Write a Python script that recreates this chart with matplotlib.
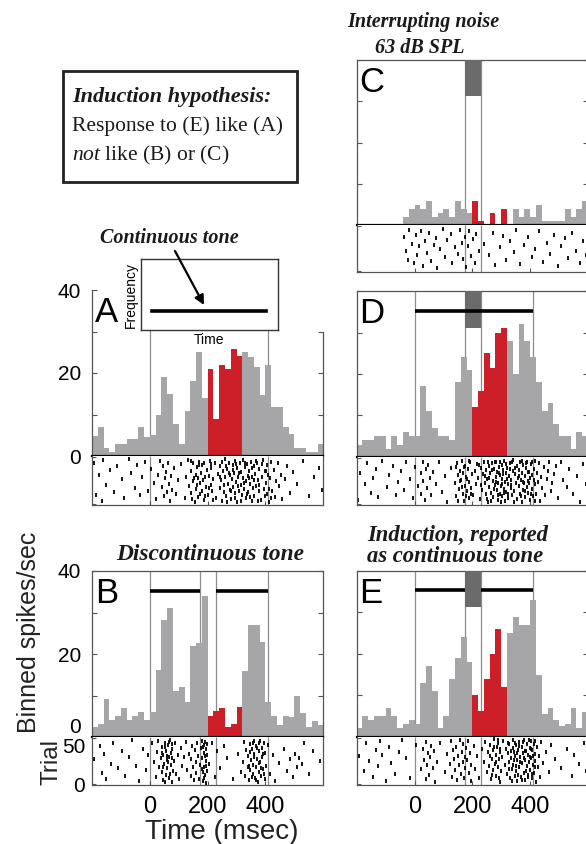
import numpy as np
import matplotlib.pyplot as plt
from matplotlib.patches import Rectangle, FancyArrowPatch

plt.rcParams["font.family"] = "Liberation Sans"
plt.rcParams["mathtext.fontset"] = "custom"
plt.rcParams["mathtext.it"] = "Liberation Serif:italic"
plt.rcParams["mathtext.rm"] = "Liberation Serif"

# 20 ms bins from -200 to 600 ms; bins 200-320 ms are shown in red
edges = np.arange(-200, 601, 20)
red_lo, red_hi = 20, 26

# binned spikes/sec
a_rate = [4.8, 6.9, 2.0, 1.0, 2.8, 2.8, 4.0, 4.0, 6.9, 4.6,
          5.0, 9.8, 19, 15, 7.6, 2.8, 10.9, 18, 25, 13.9,
          21, 9, 22, 21, 25.9, 24, 25, 23.9, 21.5, 14.8,
          22, 11.9, 11.9, 6.9, 5.4, 2.0, 2.0, 1.0, 1.0, 2.9]
b_rate = [2.3, 3.1, 9.1, 4.0, 5.1, 7.1, 4.0, 5.1, 6.0, 4.0,
          6.0, 16.1, 28.2, 31, 11.1, 12.1, 8.5, 22, 22.7, 34,
          5.0, 6.2, 7.0, 2.4, 3.2, 7.2, 16, 27, 27, 23,
          8.4, 5, 3, 5, 4.8, 9.8, 5.8, 2.3, 3.8, 2.8]
c_rate = [0, 0, 0, 0, 0, 0, 0, 0, 1.9, 3.9,
          4.8, 3.9, 5.9, 1.9, 2.8, 3.9, 1.9, 5.9, 3.9, 2.8,
          5.9, 1.0, 0, 2.8, 0, 3.9, 0, 3.9, 1.9, 3.9,
          1.9, 4.8, 1.0, 1.0, 1.0, 1.0, 3.9, 1.9, 3.9, 5.9]
d_rate = [3.0, 4.0, 4.0, 5.0, 5.0, 2.0, 5.0, 3.0, 6.0, 5.0,
          5.0, 17, 11, 7, 5, 5, 4, 18, 24, 21,
          12, 16, 25, 21.4, 30, 31, 28, 20, 32, 28,
          24, 18, 11, 13, 8, 5, 5, 2, 6, 5]
e_rate = [2.0, 5.0, 4.0, 5.0, 5.0, 7.0, 5.0, 2.0, 3.0, 4.0,
          3.0, 13, 17, 11, 2, 5, 14, 19, 24, 18,
          10, 6.3, 14, 20, 26, 12, 25, 29, 27, 27,
          33, 15, 5.5, 7, 4, 2.5, 3, 7, 2, 6]

# raster spikes: (time ms, trial)
a_spikes = [(-193, 44), (-186, 9), (-175, 31), (-166, 3), (-162, 47), (-152, 20), (-137, 36),
            (-124, 12), (-113, 40), (-97, 26), (-88, 6), (-71, 48), (-64, 33), (-52, 17),
            (-45, 41), (-33, 9), (-28, 28), (-15, 45), (-6, 14), (4, 37), (13, 22),
            (22, 5), (29, 31), (36, 46), (41, 18), (44, 40), (48, 8), (52, 27), (55, 34), (58, 12),
            (62, 44), (66, 21), (70, 3), (74, 30), (78, 15), (83, 38), (89, 10), (96, 25), (108, 42),
            (121, 6), (126, 29), (132, 47), (137, 19), (141, 35), (144, 11), (148, 24), (151, 43),
            (155, 2), (158, 31), (161, 16), (163, 39), (166, 27), (168, 7), (171, 45), (174, 22),
            (176, 33), (179, 13), (182, 41), (186, 4), (190, 28), (194, 18), (198, 36),
            (201, 9), (204, 30), (207, 46), (210, 20), (213, 38), (216, 14), (219, 26),
            (224, 43), (230, 6), (237, 32), (241, 17), (244, 40), (247, 25), (250, 3), (253, 35),
            (256, 12), (259, 48), (261, 29), (264, 8), (267, 37), (270, 21), (273, 44), (276, 15),
            (279, 31), (281, 5), (283, 26), (286, 41), (288, 18), (291, 33), (294, 11), (296, 46),
            (299, 23), (301, 38), (303, 2), (306, 29), (308, 14), (311, 43), (314, 20), (317, 34),
            (319, 9), (321, 27), (323, 47), (326, 16), (328, 39), (331, 6), (334, 24), (337, 42),
            (339, 30), (341, 12), (344, 35), (346, 21), (349, 45), (352, 3), (355, 28), (357, 17),
            (359, 40), (362, 8), (365, 32), (368, 19), (371, 44), (374, 25), (377, 13), (379, 37),
            (383, 4), (387, 29), (391, 47), (395, 16), (398, 35), (401, 22), (404, 41), (407, 10),
            (410, 31), (413, 2), (416, 27), (419, 45), (423, 14), (428, 36), (433, 7), (438, 24),
            (442, 43), (447, 19), (452, 31), (457, 5), (466, 26), (474, 40), (484, 11), (495, 34),
            (508, 21), (531, 46), (549, 8), (568, 29), (586, 38), (594, 15),
            (143, 46), (147, 5), (153, 27), (162, 20), (169, 41), (172, 10), (184, 25), (188, 44),
            (192, 8), (206, 17), (211, 42), (218, 4), (243, 29), (249, 45), (255, 20), (262, 40),
            (268, 2), (274, 33), (282, 14), (287, 36), (293, 6), (298, 42), (304, 19), (309, 33),
            (316, 3), (324, 22), (329, 44), (336, 10), (343, 27), (348, 7), (354, 38), (361, 25),
            (366, 46), (373, 3), (378, 20), (389, 42), (397, 8), (403, 35), (411, 16), (418, 6)]
b_spikes = [(-192, 27), (-174, 41), (-165, 12), (-158, 33), (-151, 6), (-133, 22), (-126, 45),
            (-111, 17), (-95, 36), (-86, 9), (-72, 29), (-63, 48), (-49, 20), (-37, 3), (-24, 38),
            (-14, 15), (-5, 31), (6, 44), (14, 24), (21, 8), (25, 35), (29, 47), (33, 19), (37, 28),
            (41, 13), (43, 40), (45, 4), (47, 31), (50, 22), (52, 45), (55, 10), (57, 36), (59, 26),
            (61, 17), (63, 42), (65, 7), (67, 29), (70, 48), (72, 21), (74, 34), (76, 2), (78, 38),
            (79, 14), (83, 25), (88, 44), (92, 11), (97, 32), (102, 6), (107, 39), (112, 20),
            (117, 29), (124, 46), (130, 15), (136, 33), (141, 9), (144, 27), (147, 41), (150, 18),
            (153, 4), (156, 37), (159, 24), (161, 12), (164, 44), (167, 30), (170, 6), (173, 21),
            (176, 39), (179, 16), (181, 28), (182, 47), (184, 3), (186, 34), (187, 19), (189, 42),
            (191, 10), (193, 25), (195, 38), (197, 14), (199, 31), (205, 22), (214, 45), (224, 8),
            (233, 36), (243, 17), (255, 41), (268, 28), (287, 5), (304, 33), (315, 13), (321, 24),
            (325, 46), (330, 9), (334, 37), (338, 19), (341, 30), (343, 4), (346, 43), (348, 15),
            (351, 26), (353, 38), (356, 11), (358, 21), (359, 47), (361, 33), (363, 7), (366, 18),
            (368, 41), (371, 27), (373, 2), (376, 36), (378, 13), (379, 45), (381, 24), (384, 9),
            (387, 39), (389, 29), (392, 16), (394, 44), (397, 5), (399, 34), (403, 20), (409, 42),
            (416, 11), (425, 31), (434, 3), (448, 23), (463, 38), (474, 14), (485, 27), (494, 8),
            (503, 33), (509, 19), (516, 28), (525, 22), (534, 45), (551, 11), (566, 36), (589, 25),
            (42, 34), (46, 18), (51, 40), (54, 2), (58, 30), (62, 24), (66, 46), (71, 11), (75, 28),
            (77, 43), (183, 13), (185, 40), (188, 7), (190, 30), (192, 46), (194, 20), (196, 1),
            (198, 43), (342, 20), (347, 35), (352, 8), (357, 44), (362, 29), (367, 4), (372, 39),
            (377, 23), (382, 47), (386, 17), (391, 33), (396, 11)]
c_spikes = [(-35, 38), (-31, 22), (-22, 12), (-18, 45), (-10, 30), (-3, 8), (5, 40), (9, 17),
            (16, 27), (24, 44), (28, 5), (35, 33), (42, 20), (50, 42), (57, 11), (66, 29), (73, 37),
            (79, 3), (88, 24), (97, 46), (104, 15), (112, 34), (125, 41), (131, 8), (140, 26),
            (149, 19), (156, 45), (163, 31), (168, 13), (176, 38), (179, 4), (184, 27), (188, 44),
            (196, 16), (203, 35), (209, 9), (214, 41), (222, 22), (240, 30), (256, 17), (271, 42),
            (278, 6), (295, 26), (306, 39), (318, 12), (331, 33), (344, 21), (352, 45), (366, 7),
            (380, 29), (392, 38), (405, 15), (417, 24), (430, 44), (443, 10), (458, 31), (469, 19),
            (482, 40), (497, 5), (508, 27), (521, 36), (530, 14), (546, 42), (558, 22), (571, 8),
            (583, 33), (594, 18)]
d_spikes = [(-195, 4), (-188, 33), (-172, 21), (-166, 44), (-151, 12), (-144, 28), (-133, 38),
            (-125, 7), (-113, 47), (-96, 18), (-88, 31), (-74, 41), (-65, 9), (-57, 24), (-46, 36),
            (-37, 15), (-28, 45), (-16, 27), (-5, 6), (3, 40), (12, 19), (21, 33), (24, 11),
            (28, 46), (31, 25), (35, 4), (38, 38), (43, 17), (48, 42), (53, 28), (58, 9), (64, 35),
            (73, 21), (84, 46), (94, 13), (105, 30), (114, 2), (127, 39), (141, 22), (144, 8),
            (148, 44), (151, 31), (155, 16), (158, 36), (161, 26), (163, 47), (166, 11), (168, 34),
            (171, 3), (174, 19), (176, 41), (179, 29), (181, 14), (184, 38), (187, 6), (190, 24),
            (193, 45), (196, 17), (199, 32), (203, 9), (208, 36), (212, 21), (217, 43), (221, 28),
            (225, 5), (229, 39), (233, 15), (237, 32), (241, 46), (243, 22), (246, 10), (248, 37),
            (251, 27), (254, 2), (256, 41), (259, 18), (261, 33), (264, 12), (267, 44), (270, 25),
            (273, 7), (276, 38), (279, 20), (281, 29), (282, 45), (284, 15), (286, 35), (288, 4),
            (290, 23), (292, 40), (294, 11), (296, 31), (298, 19), (301, 42), (302, 8), (304, 27),
            (306, 37), (308, 16), (310, 47), (312, 3), (314, 24), (316, 34), (318, 13), (321, 39),
            (323, 21), (325, 6), (328, 30), (330, 44), (333, 17), (335, 26), (337, 9), (339, 36),
            (341, 48), (344, 14), (347, 32), (350, 23), (353, 41), (356, 5), (358, 28), (361, 19),
            (362, 37), (364, 10), (366, 45), (368, 26), (370, 2), (372, 33), (374, 15), (376, 42),
            (378, 22), (381, 30), (383, 7), (385, 39), (388, 18), (390, 46), (392, 25), (394, 12),
            (396, 35), (398, 4), (401, 28), (403, 43), (406, 16), (408, 31), (411, 8), (413, 38),
            (416, 21), (418, 47), (421, 11), (425, 34), (428, 24), (432, 44), (435, 3), (438, 29),
            (442, 17), (447, 40), (452, 9), (457, 27), (462, 36), (466, 46), (471, 14), (476, 22),
            (484, 32), (490, 41), (496, 6), (505, 45), (514, 26), (526, 18), (535, 38), (547, 10),
            (563, 30), (572, 2), (584, 43), (593, 21),
            (143, 40), (150, 3), (157, 25), (164, 18), (170, 40), (178, 8), (183, 27), (189, 47),
            (195, 11), (223, 42), (231, 20), (244, 30), (249, 5), (253, 45), (258, 28), (263, 3),
            (269, 37), (274, 16), (278, 46), (283, 24), (287, 9), (291, 33), (295, 45), (299, 2),
            (303, 21), (307, 32), (311, 12), (315, 43), (319, 27), (324, 10), (329, 38), (334, 20),
            (338, 45), (345, 2), (349, 39), (363, 30), (367, 8), (371, 47), (375, 24), (382, 14),
            (387, 44), (391, 35), (397, 22), (402, 11), (407, 45), (412, 26), (417, 3)]
e_spikes = [(-191, 30), (-176, 14), (-167, 44), (-156, 25), (-145, 8), (-134, 37), (-127, 19),
            (-118, 46), (-111, 31), (-98, 3), (-88, 40), (-83, 23), (-66, 11), (-54, 35), (-42, 47),
            (-31, 28), (-15, 6), (6, 42), (23, 16), (28, 38), (33, 26), (38, 5), (41, 45), (44, 21),
            (48, 33), (51, 10), (55, 29), (58, 41), (63, 17), (68, 36), (72, 2), (77, 24), (88, 44),
            (104, 13), (114, 32), (122, 22), (126, 46), (130, 8), (134, 37), (138, 27), (141, 15),
            (144, 40), (148, 4), (151, 30), (155, 20), (158, 47), (161, 11), (163, 35), (166, 24),
            (168, 43), (171, 6), (174, 29), (176, 17), (179, 39), (182, 26), (185, 46), (188, 12),
            (191, 33), (194, 3), (197, 21), (204, 41), (209, 16), (215, 30), (224, 7), (233, 38),
            (241, 24), (245, 45), (249, 13), (253, 34), (257, 19), (261, 42), (264, 5), (267, 27),
            (270, 37), (273, 15), (276, 48), (279, 22), (281, 31), (283, 9), (285, 40), (288, 18),
            (290, 44), (292, 27), (294, 2), (296, 35), (298, 14), (302, 29), (307, 46), (312, 20),
            (317, 38), (321, 11), (323, 33), (326, 24), (328, 43), (331, 6), (334, 28), (336, 16),
            (339, 39), (341, 47), (342, 21), (344, 35), (346, 9), (348, 30), (350, 42), (352, 14),
            (354, 26), (356, 3), (358, 37), (361, 18), (363, 45), (365, 29), (368, 8), (370, 40),
            (372, 23), (374, 33), (377, 12), (379, 47), (381, 26), (383, 4), (385, 36), (388, 19),
            (390, 43), (392, 31), (394, 10), (396, 24), (398, 39), (401, 15), (402, 46), (404, 28),
            (406, 6), (408, 37), (410, 21), (412, 43), (414, 12), (415, 32), (417, 25), (419, 2),
            (422, 40), (426, 18), (430, 30), (434, 8), (438, 45), (445, 23), (455, 35), (464, 13),
            (473, 42), (487, 27), (506, 17), (527, 38), (545, 9), (553, 31), (568, 22), (585, 44),
            (594, 14),
            (262, 30), (268, 10), (275, 40), (282, 24), (287, 47), (291, 7), (297, 38), (322, 44),
            (327, 16), (333, 36), (337, 3), (343, 26), (347, 44), (351, 19), (355, 33), (359, 10),
            (362, 41), (366, 24), (371, 4), (375, 45), (378, 28), (382, 36), (386, 14), (391, 8),
            (395, 47), (399, 29), (403, 38), (407, 11), (411, 30), (416, 46), (418, 18)]

# stimulus timing (ms)
tone_on, tone_off = 0, 410
noise_on, noise_off = 175, 230

GRAY = "#a6a6a8"
RED = "#cc1f27"
NOISE = "#6b6b6b"
VLINE = "#8c8c8c"
SPINE = "#555555"
SERIF = "Liberation Serif"

W, H = 586, 844
fig = plt.figure(figsize=(W / 100, H / 100), dpi=100)


def px_axes(x0, y0, x1, y1, **kw):
    # axes from pixel box (top-left origin)
    return fig.add_axes([x0 / W, 1 - y1 / H, (x1 - x0) / W, (y1 - y0) / H], **kw)


def fx(x):
    return x / W


def fy(y):
    return 1 - y / H


def panel(x0, y_top, y_base, y_bot, rate, spikes, vlines, letter,
          ylab=False, xlab=False, trial_lab=False):
    ax = px_axes(x0, y_top, x0 + 231.3, y_base)
    rs = px_axes(x0, y_base, x0 + 231.3, y_bot)
    rate = np.asarray(rate, dtype=float)

    ax.stairs(rate, edges, fill=True, color=GRAY, lw=0, zorder=2)
    ax.stairs(rate[red_lo:red_hi], edges[red_lo:red_hi + 1], fill=True,
              color=RED, lw=0, zorder=3)
    ax.vlines(vlines, 0, 40, color=VLINE, lw=0.9, zorder=1)
    ax.set_xlim(-200, 600)
    ax.set_ylim(0, 40)
    ax.set_xticks([])
    ax.set_yticks([0, 10, 20, 30, 40])
    ax.set_yticklabels(["0", "", "20", "", "40"] if ylab else [])
    ax.tick_params(axis="y", direction="in", length=3.5, width=0.8,
                   left=True, right=True, color=SPINE, labelsize=15, pad=8)
    for s in ax.spines.values():
        s.set_color(SPINE)
        s.set_linewidth(0.9)
    ax.spines["bottom"].set_color("k")
    ax.spines["bottom"].set_linewidth(1.6)
    ax.spines["bottom"].set_zorder(5)
    ax.text(-190, 34.5, letter, fontsize=25, va="center", ha="left", zorder=6)

    t, n = np.array(spikes).T
    rs.vlines(vlines, -1, 51, color=VLINE, lw=0.9, zorder=1)
    rs.plot(t, n, ls="none", marker="|", ms=2.2, mew=1.3, color="k", zorder=2)
    rs.set_xlim(-200, 600)
    rs.set_ylim(-1, 51)
    rs.set_xticks([0, 200, 400])
    rs.set_xticklabels(["0", "200", "400"] if xlab else [])
    rs.tick_params(axis="x", direction="in", length=3, width=0.8, color=SPINE,
                   labelsize=17, pad=8)
    rs.set_yticks([0, 50])
    rs.set_yticklabels(["0", "50"] if trial_lab else [])
    rs.tick_params(axis="y", direction="in", length=3, width=0.8, color=SPINE,
                   labelsize=15, pad=5)
    for s in rs.spines.values():
        s.set_color(SPINE)
        s.set_linewidth(0.9)
    rs.spines["top"].set_visible(False)
    return ax, rs


# left column
ax_a, rs_a = panel(92, 290, 456, 504.5, a_rate, a_spikes, [tone_on, tone_off], "A", ylab=True)
ax_a.spines["top"].set_visible(False)
ax_a.spines["right"].set_bounds(0, 30)
ax_a.yaxis.get_major_ticks()[-1].tick2line.set_visible(False)

ax_b, rs_b = panel(92, 571, 737, 785, b_rate, b_spikes,
                   [tone_on, noise_on, noise_off, tone_off], "B",
                   ylab=True, xlab=True, trial_lab=True)
ax_b.hlines([35.2, 35.2], [tone_on, noise_off], [noise_on, tone_off], color="k", lw=2.6, zorder=4)
# keep "0" of the histogram and "50" of the raster apart, as in the original
ax_b.get_yticklabels()[0].set_va("bottom")
rs_b.get_yticklabels()[-1].set_va("top")

# right column (runs off the right edge, as in the original)
xr = 356.7
ax_c, rs_c = panel(xr, 60, 225, 271.5, c_rate, c_spikes, [noise_on, noise_off], "C")
ax_d, rs_d = panel(xr, 291, 457, 504.5, d_rate, d_spikes,
                   [tone_on, noise_on, noise_off, tone_off], "D")
ax_e, rs_e = panel(xr, 571, 736.7, 785, e_rate, e_spikes,
                   [tone_on, noise_on, noise_off, tone_off], "E", xlab=True)

for ax in (ax_c, ax_d, ax_e):
    ax.add_patch(Rectangle((noise_on, 31.2), noise_off - noise_on, 8.8,
                           color=NOISE, lw=0, zorder=4))
ax_d.hlines(35.2, tone_on, tone_off, color="k", lw=2.6, zorder=5)
ax_e.hlines(35.4, tone_on, tone_off, color="k", lw=2.6, zorder=3)

# inset sketch in A
ins = px_axes(141, 259, 278, 330)
ins.set_zorder(10)
ins.set_xlim(0, 1)
ins.set_ylim(0, 1)
ins.plot([0.08, 0.91], [0.27, 0.27], color="k", lw=2.6)
ins.set_xticks([])
ins.set_yticks([])
for s in ins.spines.values():
    s.set_color("#333333")
    s.set_linewidth(1.0)
ins.set_xlabel("Time", fontsize=10, labelpad=2)
ins.set_ylabel("Frequency", fontsize=10, labelpad=2)

arrow = FancyArrowPatch((fx(175), fy(251)), (fx(204), fy(305)),
                        transform=fig.transFigure, arrowstyle="-|>",
                        mutation_scale=14, color="k", lw=1.6,
                        shrinkA=0, shrinkB=0, zorder=30)
fig.add_artist(arrow)

# titles
tkw = dict(family=SERIF, weight="bold", style="italic", color="#1a1a1a")
fig.text(fx(169), fy(238), "Continuous tone", fontsize=14.5, ha="center", va="center", **tkw)
fig.text(fx(423), fy(22), "Interrupting noise", fontsize=14.5, ha="center", va="center", **tkw)
fig.text(fx(420), fy(48), "63 dB SPL", fontsize=14.5, ha="center", va="center", **tkw)
fig.text(fx(210), fy(555), "Discontinuous tone", fontsize=16.8, ha="center", va="center", **tkw)
fig.text(fx(367), fy(535), "Induction, reported", fontsize=16.3, ha="left", va="center", **tkw)
fig.text(fx(367), fy(556), "as continuous tone", fontsize=16.3, ha="left", va="center", **tkw)

# hypothesis box
fig.add_artist(Rectangle((fx(63), fy(182)), 234 / W, 111 / H, transform=fig.transFigure,
                         fill=False, ec="#222222", lw=2.0))
fig.text(fx(72), fy(97), "Induction hypothesis:", fontsize=16, va="center", **tkw)
fig.text(fx(72), fy(126), "Response to (E) like (A)", fontsize=15.5,
         family=SERIF, va="center", color="#1a1a1a")
fig.text(fx(72), fy(155), r"$\mathit{not}$ like (B) or (C)", fontsize=15.5,
         family=SERIF, va="center", color="#1a1a1a")

# axis labels
fig.text(fx(29), fy(632), "Binned spikes/sec", fontsize=18, rotation=90,
         ha="center", va="center", color="#222222")
fig.text(fx(51), fy(762), "Trial", fontsize=17.5, rotation=90,
         ha="center", va="center", color="#222222")
fig.text(fx(222), fy(832), "Time (msec)", fontsize=20, ha="center", va="center",
         color="#222222")

fig.savefig("out.png", dpi=100)
